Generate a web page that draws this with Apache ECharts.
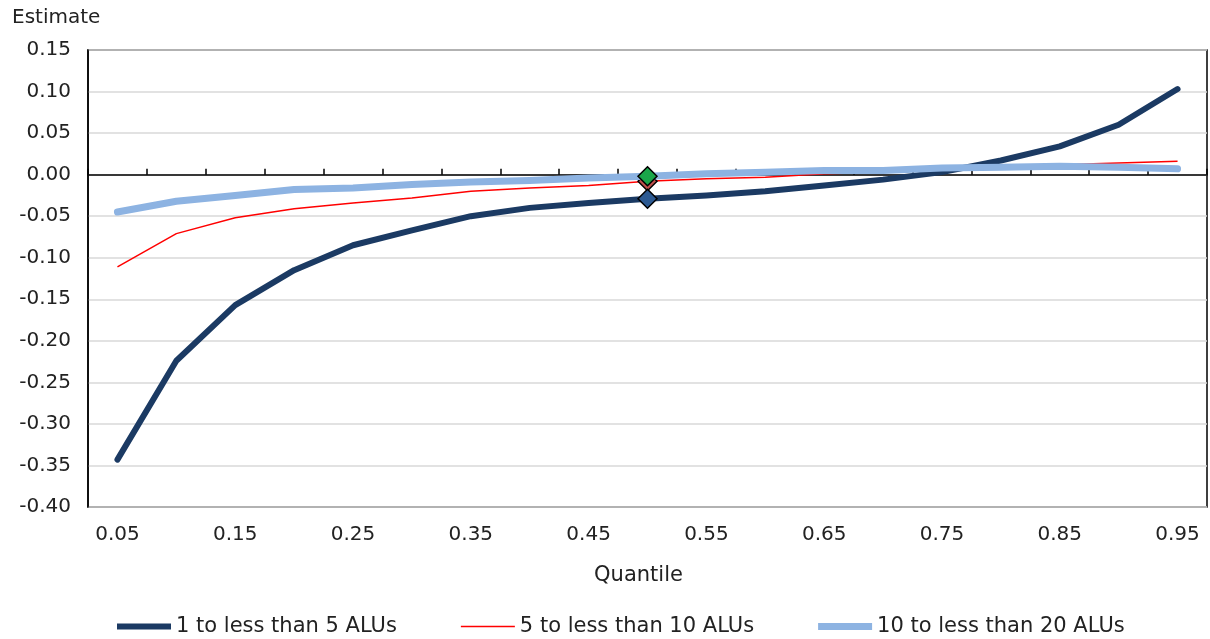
<!DOCTYPE html>
<html>
<head>
<meta charset="utf-8">
<script src="https://cdn.jsdelivr.net/npm/echarts@6/dist/echarts.min.js"></script>
<style>html,body{margin:0;padding:0;background:#fff}#c{width:1210px;height:639px}</style>
</head>
<body>
<div id="c"></div>
<script>
var quantiles = ['0.05','0.10','0.15','0.20','0.25','0.30','0.35','0.40','0.45','0.50','0.55','0.60','0.65','0.70','0.75','0.80','0.85','0.90','0.95'];
var seriesNames = ['1 to less than 5 ALUs','5 to less than 10 ALUs','10 to less than 20 ALUs'];
var s1to5 = [-0.343,-0.224,-0.157,-0.115,-0.085,-0.067,-0.050,-0.040,-0.034,-0.029,-0.025,-0.020,-0.013,-0.006,0.003,0.017,0.034,0.060,0.103];
var s5to10 = [-0.111,-0.071,-0.052,-0.041,-0.034,-0.028,-0.020,-0.016,-0.013,-0.008,-0.005,-0.003,0.001,0.003,0.007,0.010,0.012,0.014,0.016];
var s10to20 = [-0.045,-0.032,-0.025,-0.018,-0.016,-0.012,-0.009,-0.007,-0.004,-0.002,0.001,0.003,0.005,0.005,0.008,0.009,0.010,0.009,0.007];
var markedIndex = 9;

var FONT = 'DejaVu Sans';
var FS = 20;
function withMarker(arr, color) {
  return arr.map(function (v, i) {
    if (i === markedIndex) {
      return { value: v, symbol: 'diamond', symbolSize: 19,
        itemStyle: { color: color, borderColor: '#000', borderWidth: 1.5 } };
    }
    return v;
  });
}
function barIcon(h) {
  var y0 = (8 - h) / 2, y1 = y0 + h;
  return 'path://M0,0L0,0M54,8L54,8M0,' + y0 + 'H54V' + y1 + 'H0Z';
}
var chart = echarts.init(document.getElementById('c'), null, { renderer: 'canvas' });
chart.setOption({
  animation: false,
  textStyle: { fontFamily: FONT, color: '#222' },
  grid: { left: 88, right: 3, top: 50, bottom: 132, show: true, borderColor: '#000', borderWidth: 1.5, containLabel: false },
  legend: {
    top: 611, left: 112, itemWidth: 54, itemHeight: 8, itemGap: 64,
    textStyle: { fontFamily: FONT, fontSize: 21, color: '#222' },
    data: [
      { name: seriesNames[0], icon: barIcon(6), itemStyle: { color: '#1b3a63' } },
      { name: seriesNames[1], icon: barIcon(1.5), itemStyle: { color: '#ff0000' } },
      { name: seriesNames[2], icon: barIcon(7), itemStyle: { color: '#8db3e2' } }
    ]
  },
  xAxis: [{
    type: 'category', data: quantiles, boundaryGap: true, position: 'bottom',
    axisLine: { onZero: false, show: false },
    axisTick: { show: false },
    axisLabel: { interval: 1, margin: 18, fontSize: FS, color: '#222', fontFamily: FONT },
    name: 'Quantile', nameLocation: 'middle', nameGap: 58,
    nameTextStyle: { fontSize: 21, color: '#222', fontFamily: FONT, padding: [0, 18, 0, 0] },
    splitLine: { show: false }
  }, {
    type: 'category', data: quantiles, boundaryGap: true, position: 'bottom',
    axisLine: { onZero: true, show: true, lineStyle: { color: '#000', width: 1.5 } },
    axisTick: { show: true, inside: true, length: 6, interval: 0, lineStyle: { color: '#000', width: 1.5 } },
    axisLabel: { show: false },
    splitLine: { show: false }
  }],
  yAxis: {
    type: 'value', min: -0.40, max: 0.15, interval: 0.05,
    name: 'Estimate', nameLocation: 'end', nameGap: 0,
    nameTextStyle: { fontSize: FS, color: '#222', fontFamily: FONT, align: 'left', padding: [0, 0, 22, -76] },
    axisLine: { show: true, lineStyle: { color: '#000', width: 1.5 } },
    axisTick: { show: false },
    axisLabel: { fontSize: FS, color: '#222', margin: 17, fontFamily: FONT, formatter: function (v) { return v.toFixed(2); } },
    splitLine: { show: true, lineStyle: { color: '#d9d9d9', width: 1.5 } }
  },
  series: [{
    name: seriesNames[0], type: 'line', data: withMarker(s1to5, '#2d5a92'), symbol: 'none',
    lineStyle: { color: '#1b3a63', width: 6, cap: 'round', join: 'round' },
    itemStyle: { color: '#1b3a63' }, z: 3
  }, {
    name: seriesNames[1], type: 'line', data: withMarker(s5to10, '#c0504d'), symbol: 'none',
    lineStyle: { color: '#ff0000', width: 1.5 },
    itemStyle: { color: '#ff0000' }, z: 2
  }, {
    name: seriesNames[2], type: 'line', data: withMarker(s10to20, '#1aa64a'), symbol: 'none',
    lineStyle: { color: '#8db3e2', width: 7, cap: 'round', join: 'round' },
    itemStyle: { color: '#8db3e2' }, z: 4
  }]
});
</script>
</body>
</html>
